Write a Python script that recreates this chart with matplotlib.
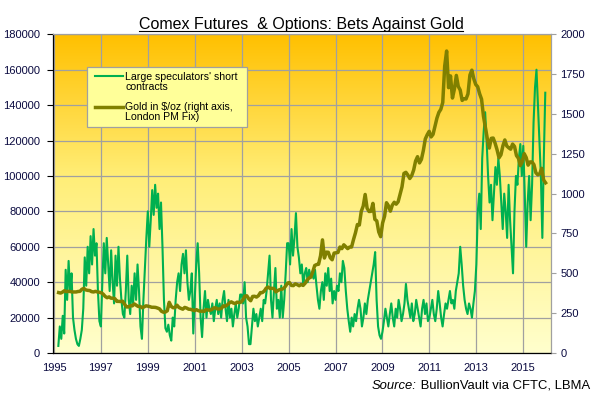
import matplotlib
matplotlib.use('Agg')
import matplotlib.pyplot as plt
import numpy as np
from matplotlib.lines import Line2D
from matplotlib.patches import Rectangle
from matplotlib.colors import LinearSegmentedColormap

plt.rcParams['font.family'] = ['Liberation Sans', 'DejaVu Sans']

# ---------------- data ----------------
title_text = "Comex Futures  & Options: Bets Against Gold"
source_label = "Source:"
source_text = " BullionVault via CFTC, LBMA"
legend_short = ["Large speculators' short", "contracts"]
legend_gold = ["Gold in $/oz (right axis,", "London PM Fix)"]

x_ticks = [1995, 1997, 1999, 2001, 2003, 2005, 2007, 2009, 2011, 2013, 2015]
left_ticks = [0, 20000, 40000, 60000, 80000, 100000, 120000, 140000, 160000, 180000]
right_ticks = [0, 250, 500, 750, 1000, 1250, 1500, 1750, 2000]

# large speculators' short contracts (thousands), sampled every 1/16 year
short_start = 1995 + 3 / 16
short_step = 1 / 16
short_k = [
    4, 15, 8, 21, 11, 47, 30, 52, 35, 45, 20, 13, 8,                      # 1995
    5, 4, 8, 13, 25, 54, 38, 60, 45, 66, 50, 70, 55, 62, 35, 18,          # 1996
    15, 40, 62, 45, 65, 50, 35, 58, 40, 28, 55, 38, 60, 42, 30, 22,       # 1997
    20, 35, 55, 30, 22, 38, 28, 45, 30, 50, 35, 15, 8, 30, 48, 65,        # 1998
    80, 60, 75, 92, 78, 95, 82, 90, 70, 85, 60, 30, 14, 12, 16, 10,       # 1999
    7, 20, 15, 30, 40, 45, 35, 50, 56, 45, 58, 40, 30, 35, 45, 11,        # 2000
    30, 50, 62, 45, 20, 9, 25, 35, 20, 30, 25, 22, 28, 18, 25, 30,        # 2001
    22, 28, 20, 30, 35, 25, 18, 30, 20, 25, 15, 22, 28, 20, 25, 33,       # 2002
    33, 28, 40, 20, 15, 5, 5, 15, 25, 18, 22, 15, 20, 25, 18, 30,         # 2003
    28, 35, 45, 55, 30, 20, 35, 48, 25, 30, 20, 38, 20, 30, 45, 62,       # 2004
    62, 50, 70, 55, 65, 79, 60, 54, 45, 50, 38, 45, 48, 40, 47, 43,       # 2005
    45, 42, 47, 38, 30, 25, 35, 40, 30, 45, 38, 48, 35, 42, 28, 35,       # 2006
    30, 38, 35, 45, 40, 52, 48, 35, 25, 18, 12, 20, 15, 22, 18, 25,       # 2007
    30, 25, 15, 20, 28, 22, 30, 35, 40, 45, 50, 57, 30, 15, 10, 8,        # 2008
    12, 18, 25, 20, 15, 22, 28, 20, 15, 25, 20, 30, 25, 18, 22, 28,       # 2009
    39, 30, 25, 20, 28, 18, 22, 30, 25, 20, 15, 25, 30, 22, 28, 18,       # 2010
    20, 25, 30, 22, 18, 25, 35, 28, 20, 15, 22, 28, 25, 30, 35, 28,       # 2011
    30, 25, 35, 40, 45, 60, 50, 38, 30, 25, 22, 28, 25, 20, 28, 35,       # 2012
    50, 80, 90, 70, 110, 125, 136, 120, 100, 85, 95, 75, 90, 105, 95, 110,  # 2013
    100, 85, 70, 90, 80, 65, 95, 75, 60, 45, 80, 100, 95, 110, 118, 100,  # 2014
    117, 90, 60, 85, 100, 75, 95, 130, 150, 160, 140, 120, 100, 65, 110, 147,  # 2015
]

# gold London PM fix, monthly (USD/oz)
gold_1995 = [379, 376, 382, 391, 385, 387, 386, 383, 383, 383, 386, 387]
gold_1996 = [400, 405, 396, 393, 392, 385, 383, 387, 383, 381, 378, 369]
gold_1997 = [355, 347, 352, 344, 344, 341, 324, 324, 323, 325, 306, 289]
gold_1998 = [289, 297, 296, 308, 300, 292, 293, 284, 289, 296, 294, 291]
gold_1999 = [287, 287, 286, 282, 277, 262, 256, 257, 265, 318, 293, 284]
gold_2000 = [285, 300, 286, 280, 275, 286, 282, 275, 274, 270, 266, 272]
gold_2001 = [266, 262, 263, 261, 272, 270, 268, 273, 283, 283, 276, 276]
gold_2002 = [282, 296, 294, 302, 314, 321, 314, 310, 319, 317, 319, 333]
gold_2003 = [357, 359, 340, 328, 355, 356, 351, 360, 379, 379, 389, 407]
gold_2004 = [414, 405, 406, 404, 384, 392, 398, 400, 405, 420, 439, 442]
gold_2005 = [424, 423, 434, 429, 422, 430, 424, 437, 456, 470, 476, 510]
gold_2006 = [549, 555, 557, 610, 710, 596, 633, 632, 598, 585, 627, 629]
gold_2007 = [631, 665, 655, 679, 667, 655, 665, 665, 712, 754, 806, 803]
gold_2008 = [889, 922, 995, 909, 888, 889, 939, 839, 829, 760, 730, 816]
gold_2009 = [858, 943, 924, 890, 928, 946, 934, 949, 996, 1043, 1127, 1134]
gold_2010 = [1117, 1095, 1113, 1148, 1205, 1232, 1193, 1215, 1271, 1343, 1370, 1391]
gold_2011 = [1356, 1372, 1424, 1474, 1510, 1529, 1572, 1800, 1895, 1665, 1739, 1600]
gold_2012 = [1656, 1742, 1673, 1650, 1585, 1596, 1594, 1626, 1744, 1775, 1721, 1685]
gold_2013 = [1671, 1627, 1593, 1485, 1414, 1343, 1286, 1347, 1349, 1316, 1275, 1225]
gold_2014 = [1244, 1300, 1337, 1299, 1288, 1279, 1311, 1296, 1239, 1222, 1176, 1201]
gold_2015 = [1251, 1227, 1179, 1199, 1199, 1182, 1131, 1118, 1125, 1159, 1086, 1068]

gold_all = (gold_1995 + gold_1996 + gold_1997 + gold_1998 + gold_1999 + gold_2000 +
            gold_2001 + gold_2002 + gold_2003 + gold_2004 + gold_2005 + gold_2006 +
            gold_2007 + gold_2008 + gold_2009 + gold_2010 + gold_2011 + gold_2012 +
            gold_2013 + gold_2014 + gold_2015)
gold_x = 1995.2 + np.arange(len(gold_all)) * (20.75 / (len(gold_all) - 1))
short_x = short_start + np.arange(len(short_k)) * short_step
short_vals = np.array(short_k) * 1000

# ---------------- figure ----------------
W, H = 596, 398
fig = plt.figure(figsize=(W / 100, H / 100), dpi=100)
fig.patch.set_facecolor('white')
L, R, T, B = 53, 550.5, 34.3, 353
ax = fig.add_axes([L / W, 1 - B / H, (R - L) / W, (B - T) / H])

# gradient background
cmap = LinearSegmentedColormap.from_list(
    'bg', [(0.0, (1, 192 / 255, 0)), (0.45, (1, 238 / 255, 120 / 255)), (1.0, (1, 1, 205 / 255))])
grad = np.linspace(0, 1, 256).reshape(-1, 1)
ax.imshow(grad, extent=[0, 1, 0, 1], transform=ax.transAxes, aspect='auto', cmap=cmap,
          zorder=0, origin='upper')

navy = '#0a0a40'
grid_c = '#a0a0a0'
ax.plot(short_x, short_vals, color='#00b050', lw=1.5, zorder=2, solid_joinstyle='round')
ax.set_xlim(1994.96, 2016.16)
ax.set_ylim(0, 180000)
ax.set_xticks(x_ticks)
ax.set_xticklabels([str(t) for t in x_ticks])
ax.set_yticks(left_ticks)
ax.set_yticklabels([str(t) for t in left_ticks])
ax.set_axisbelow(True)
ax.grid(True, color=grid_c, lw=0.9)
ax.tick_params(axis='y', length=6 * 0.72, width=0.8, color='black', labelcolor=navy,
               labelsize=8, pad=5)
ax.tick_params(axis='x', length=0, labelcolor=navy, labelsize=8, pad=7)
for s in ['left', 'bottom']:
    ax.spines[s].set_color('black')
    ax.spines[s].set_linewidth(0.9)
for s in ['top', 'right']:
    ax.spines[s].set_color(grid_c)
    ax.spines[s].set_linewidth(0.9)

ax2 = ax.twinx()
ax2.plot(gold_x, gold_all, color='#808000', lw=2.5, zorder=3, solid_joinstyle='round')
ax2.set_ylim(0, 2000)
ax2.set_yticks(right_ticks)
ax2.set_yticklabels([str(t) for t in right_ticks])
ax2.tick_params(axis='y', length=5 * 0.72, width=0.8, color=grid_c, labelcolor=navy,
                labelsize=8, pad=3.5)
for s in ax2.spines.values():
    s.set_visible(False)
ax2.patch.set_visible(False)

# title with underline
title = fig.text(301 / W, 1 - 28.5 / H, title_text, ha='center', va='baseline',
                 fontsize=11.5, color='black')

# manual legend
def fx(px):
    return px / W

def fy(py):
    return 1 - py / H

fig.add_artist(Rectangle((fx(87), fy(127)), (247 - 87) / W, (127 - 67) / H,
                         transform=fig.transFigure, facecolor='#ffff99',
                         edgecolor=grid_c, lw=0.9, zorder=5))
fig.add_artist(Line2D([fx(95), fx(123)], [fy(76), fy(76)], transform=fig.transFigure,
                      color='#00b050', lw=1.5, zorder=6))
fig.add_artist(Line2D([fx(95), fx(123)], [fy(106.5), fy(106.5)], transform=fig.transFigure,
                      color='#808000', lw=2.5, zorder=6))
for i, line in enumerate(legend_short):
    fig.text(fx(125.5), fy(80 + 10.5 * i), line, ha='left', va='baseline', fontsize=7.6,
             color='black', zorder=7)
for i, line in enumerate(legend_gold):
    fig.text(fx(125.5), fy(110 + 10.5 * i), line, ha='left', va='baseline', fontsize=7.6,
             color='black', zorder=7)

# source
src = fig.text(fx(590), fy(389), source_text, ha='right', va='baseline', fontsize=9.4,
               color='black')

fig.canvas.draw()
r = fig.canvas.get_renderer()
bb = title.get_window_extent(r)
fig.add_artist(Line2D([bb.x0 / W, bb.x1 / W], [(H - 30.5) / H] * 2, transform=fig.transFigure,
                      color='black', lw=0.8))
sb = src.get_window_extent(r)
fig.text(sb.x0 / W, fy(389), source_label, ha='right', va='baseline', fontsize=9.4,
         style='italic', color='black')

fig.savefig('out.png', dpi=100)
